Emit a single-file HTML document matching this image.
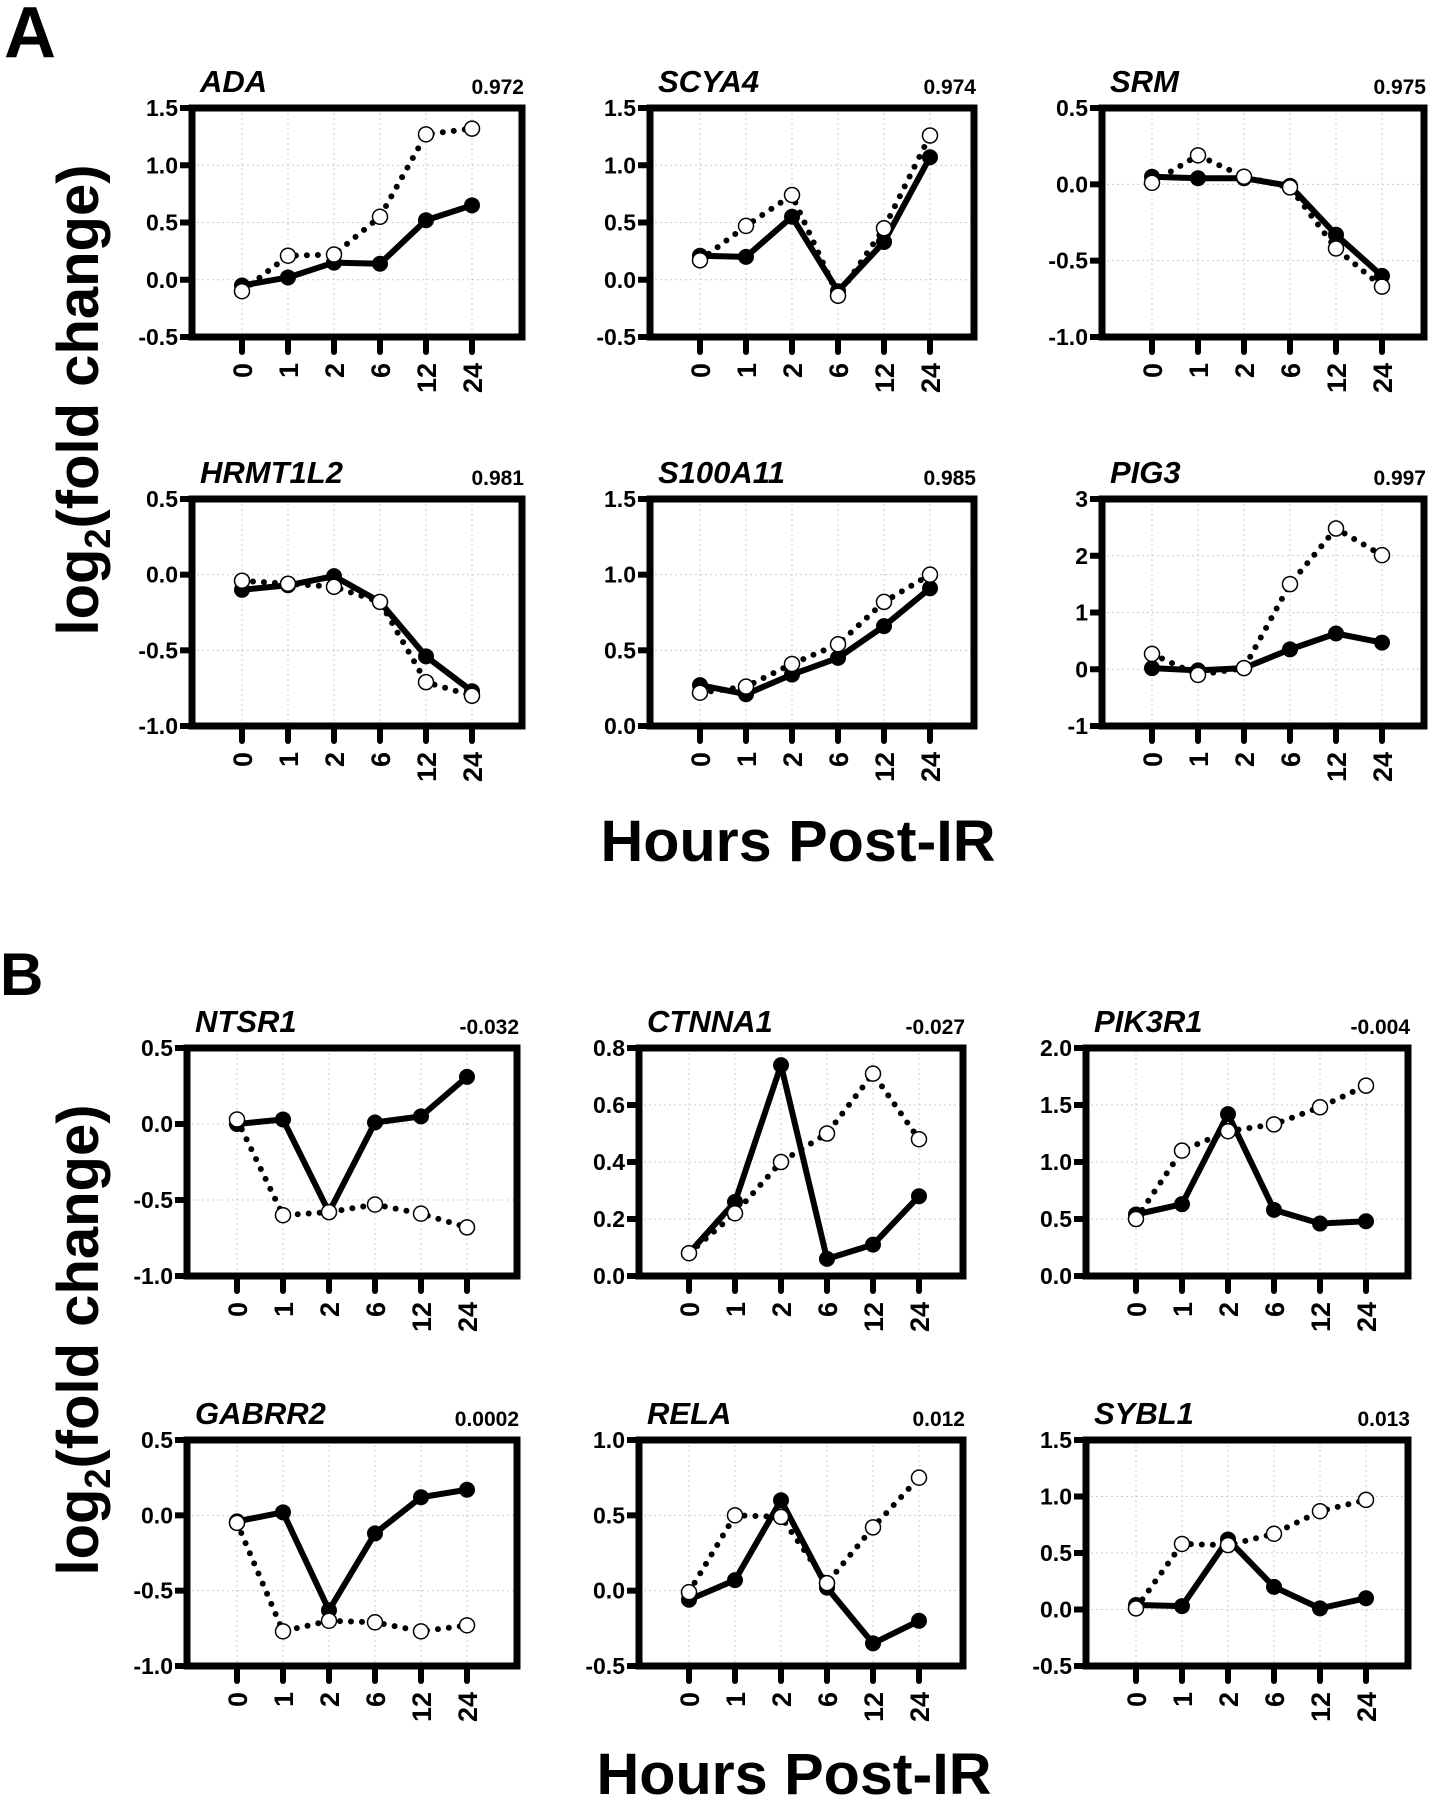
<!DOCTYPE html>
<html><head><meta charset="utf-8"><style>
html,body{margin:0;padding:0;background:#fff}
svg{display:block}
text{font-family:"Liberation Sans",Arial,sans-serif;font-weight:bold;fill:#000}
</style></head><body>
<svg id="fig" width="1431" height="1800" viewBox="0 0 1431 1800" xmlns="http://www.w3.org/2000/svg">
<text x="4" y="57" font-size="72">A</text>
<text x="0" y="995" font-size="60">B</text>
<text transform="translate(98,400) rotate(-90)" text-anchor="middle" font-size="58">log<tspan font-size="36" dy="12">2</tspan><tspan dy="-12">(fold change)</tspan></text>
<text transform="translate(98,1340) rotate(-90)" text-anchor="middle" font-size="58">log<tspan font-size="36" dy="12">2</tspan><tspan dy="-12">(fold change)</tspan></text>
<text x="798" y="861" text-anchor="middle" font-size="58" textLength="395" lengthAdjust="spacingAndGlyphs">Hours Post-IR</text>
<text x="794" y="1794" text-anchor="middle" font-size="58" textLength="395" lengthAdjust="spacingAndGlyphs">Hours Post-IR</text>
<g id="panels"></g>
</svg>
<script>
const hours = ["0","1","2","6","12","24"];
const geneNames = ["ADA","SCYA4","SRM","HRMT1L2","S100A11","PIG3","NTSR1","CTNNA1","PIK3R1","GABRR2","RELA","SYBL1"];
const corrValues = ["0.972","0.974","0.975","0.981","0.985","0.997","-0.032","-0.027","-0.004","0.0002","0.012","0.013"];
const yMins = [-0.5,-0.5,-1,-1,0,-1,-1,0,0,-1,-0.5,-0.5];
const yMaxs = [1.5,1.5,0.5,0.5,1.5,3,0.5,0.8,2,0.5,1,1.5];
const ySteps = [0.5,0.5,0.5,0.5,0.5,1,0.5,0.2,0.5,0.5,0.5,0.5];
const solidSeries = [
 [-0.05,0.02,0.15,0.14,0.52,0.65],
 [0.21,0.20,0.55,-0.10,0.33,1.07],
 [0.05,0.04,0.04,-0.01,-0.33,-0.60],
 [-0.10,-0.07,-0.01,-0.18,-0.54,-0.77],
 [0.27,0.21,0.34,0.45,0.66,0.91],
 [0.02,-0.02,0.02,0.35,0.63,0.47],
 [0.00,0.03,-0.58,0.01,0.05,0.31],
 [0.08,0.26,0.74,0.06,0.11,0.28],
 [0.54,0.63,1.42,0.58,0.46,0.48],
 [-0.04,0.02,-0.63,-0.12,0.12,0.17],
 [-0.06,0.07,0.60,0.02,-0.35,-0.20],
 [0.04,0.03,0.62,0.20,0.01,0.10]];
const dottedSeries = [
 [-0.10,0.21,0.22,0.55,1.27,1.32],
 [0.17,0.47,0.74,-0.14,0.45,1.26],
 [0.01,0.19,0.05,-0.02,-0.42,-0.67],
 [-0.04,-0.06,-0.08,-0.18,-0.71,-0.80],
 [0.22,0.26,0.41,0.54,0.82,1.00],
 [0.27,-0.10,0.02,1.50,2.48,2.01],
 [0.03,-0.60,-0.58,-0.53,-0.59,-0.68],
 [0.08,0.22,0.40,0.50,0.71,0.48],
 [0.50,1.10,1.27,1.33,1.48,1.67],
 [-0.05,-0.77,-0.70,-0.71,-0.77,-0.73],
 [-0.01,0.50,0.49,0.05,0.42,0.75],
 [0.01,0.58,0.57,0.67,0.87,0.97]];

const NS="http://www.w3.org/2000/svg";
const colLeftA=[192,650,1102], colLeftB=[187,639,1086];
const colW=[330,324,322];
const rowTop=[108,499,1048,1440], rowBot=[337,726,1276,1666];
const root=document.getElementById('panels');
function mk(tag,attrs,parent){const e=document.createElementNS(NS,tag);for(const k in attrs)e.setAttribute(k,attrs[k]);parent.appendChild(e);return e;}

for(let p=0;p<12;p++){
  const r=Math.floor(p/3), c=p%3;
  const W=colW[c];
  const L=(r<2?colLeftA:colLeftB)[c], R=L+W, T=rowTop[r], B=rowBot[r];
  const g=mk('g',{},root);
  
  
  const xs=i=>L+50+i*46;
  const ys=v=>B-(v-yMins[p])/(yMaxs[p]-yMins[p])*(B-T);
  const nT=Math.round((yMaxs[p]-yMins[p])/ySteps[p]);
  for(let k=1;k<nT;k++){const v=yMins[p]+k*ySteps[p];
    const gl=mk('line',{x1:L,x2:R,y1:ys(v),y2:ys(v),stroke:'#ccc','stroke-width':1,'stroke-dasharray':'2 3'},g);
    
    }
  for(let i=0;i<6;i++){
    const gl=mk('line',{x1:xs(i),x2:xs(i),y1:T,y2:B,stroke:'#ccc','stroke-width':1,'stroke-dasharray':'2 3'},g);
    
    }
  const box=mk('rect',{x:L,y:T,width:W,height:B-T,fill:'none',stroke:'#000','stroke-width':7},g);
  
  
  for(let k=0;k<=nT;k++){const v=yMins[p]+k*ySteps[p];
    const tk=mk('line',{x1:L-12,x2:L,y1:ys(v),y2:ys(v),stroke:'#000','stroke-width':6},g);
    
    
    const t=mk('text',{x:L-14,y:ys(v)+8,'text-anchor':'end','font-size':23},g);
    
    
    t.textContent=ySteps[p]>=1?v.toFixed(0):v.toFixed(1);}
  for(let i=0;i<6;i++){
    const tk=mk('line',{x1:xs(i),x2:xs(i),y1:B,y2:B+15,stroke:'#000','stroke-width':6,'stroke-linecap':'round'},g);
    
    
    const t=mk('text',{transform:`translate(${xs(i)+10},${B+26}) rotate(-90)`,'text-anchor':'end','font-size':27},g);
    
    
    t.textContent=hours[i];}
  const tt=mk('text',{x:L+8,y:T-16,'font-size':31,'font-style':'italic'},g);
  
  
  tt.textContent=geneNames[p];
  const cv=mk('text',{x:R+2,y:T-14,'text-anchor':'end','font-size':21},g);
  
  
  cv.textContent=corrValues[p];
  const dpts=dottedSeries[p].map((v,i)=>xs(i)+','+ys(v)).join(' ');
  const spts=solidSeries[p].map((v,i)=>xs(i)+','+ys(v)).join(' ');
  const dl=mk('polyline',{points:dpts,fill:'none',stroke:'#000','stroke-width':6,'stroke-dasharray':'0 11','stroke-linecap':'round'},g);
  
  
  const sl=mk('polyline',{points:spts,fill:'none',stroke:'#000','stroke-width':6,'stroke-linejoin':'round'},g);
  
  
  solidSeries[p].forEach((v,i)=>{
    const m=mk('circle',{cx:xs(i),cy:ys(v),r:8,fill:'#000'},g);
    
    });
  dottedSeries[p].forEach((v,i)=>{
    const m=mk('circle',{cx:xs(i),cy:ys(v),r:7.5,fill:'#fff',stroke:'#000','stroke-width':1.5},g);
    
    });
}
</script>
</body></html>
